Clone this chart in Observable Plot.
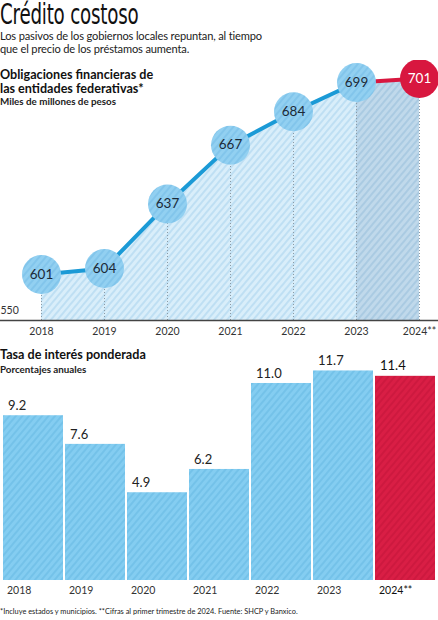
<!DOCTYPE html>
<html>
<head>
<meta charset="utf-8">
<script src="https://cdn.jsdelivr.net/npm/d3@7"></script>
<script src="https://cdn.jsdelivr.net/npm/@observablehq/plot@0.6"></script>
<style>
  body { margin: 0; background: #fff; font-family: Lato, "Open Sans", sans-serif; color: #1e1e1e; }
  #page { position: relative; width: 438px; height: 620px; overflow: hidden; }
  .abs { position: absolute; left: 0; z-index: 2; white-space: nowrap; }
  #title { top: 1px; font-family: "DejaVu Sans Condensed", "DejaVu Sans", sans-serif; font-stretch: condensed; font-size: 29px; line-height: 27px; color: #111;
           transform: scaleX(0.7); transform-origin: 0 0; letter-spacing: -0.3px; }
  #sub { top: 29px; font-size: 11.1px; line-height: 13px; letter-spacing: -0.15px; color: #222; }
  .sec { font-size: 12.6px; line-height: 14px; font-weight: 700; color: #111; }
  .unit { font-size: 9.8px; line-height: 11px; font-weight: 700; color: #222; }
  #foot { top: 607px; font-size: 7.4px; color: #222; }
  .chart { position: absolute; left: 0; z-index: 1; }
</style>
</head>
<body>
<div id="page">
  <div id="c1" class="chart" style="top:60px"></div>
  <div id="c2" class="chart" style="top:340px"></div>
  <div id="title" class="abs">Crédito costoso</div>
  <div id="sub" class="abs">Los pasivos de los gobiernos locales repuntan, al tiempo<br>que el precio de los préstamos aumenta.</div>
  <div class="abs sec" style="top:68px">Obligaciones financieras de<br>las entidades federativas*</div>
  <div class="abs unit" style="top:96px">Miles de millones de pesos</div>
  <div class="abs sec" style="top:348px">Tasa de interés ponderada</div>
  <div class="abs unit" style="top:364px">Porcentajes anuales</div>
  <div id="foot" class="abs">*Incluye estados y municipios. **Cifras al primer trimestre de 2024. Fuente: SHCP y Banxico.</div>
</div>
<script>
// data
const years = [2018, 2019, 2020, 2021, 2022, 2023, 2024];
const yearLabels = ["2018", "2019", "2020", "2021", "2022", "2023", "2024**"];
const obligaciones = [601, 604, 637, 667, 684, 699, 701];
const tasa = [9.2, 7.6, 4.9, 6.2, 11.0, 11.7, 11.4];
const baseLabel = "550";

const blue = "#1b9ad6";
const red = "#d8173f";
const W = 438;

// diagonal hatch fills
const hatch = (id, bg, fg) => `
  <pattern id="${id}" width="5" height="5" patternUnits="userSpaceOnUse" patternTransform="rotate(40)">
    <rect width="5" height="5" fill="${bg}"/><line x1="1" y1="0" x2="1" y2="5" stroke="${fg}" stroke-width="1.1"/>
  </pattern>`;
const defs = hatch("hArea", "#d9eefa", "#a9d3ee")
  + hatch("hAreaDark", "#c0d9eb", "#98bfdb")
  + hatch("hDot", "#92d0f1", "#74bce6")
  + hatch("hBlue", "#84cdf1", "#66b9e4")
  + hatch("hRed", "#d91e45", "#c4143a");

// ---------- line chart ----------
const pts = years.map((y, i) => ({year: y, value: obligaciones[i], label: String(obligaciones[i])}));
const seg1 = pts.slice(0, 6);
const seg2 = pts.slice(5);
const yMin = 577.5;   // axis is broken: bottom labelled 550

const p1 = Plot.plot({
  width: W,
  height: 280,
  marginTop: 0,
  marginBottom: 20,
  marginLeft: 41,
  marginRight: 19,
  style: {background: "transparent", fontFamily: "Lato, 'Open Sans', sans-serif", fontSize: "10.5px", color: "#333"},
  x: {domain: [2018, 2024]},
  y: {domain: [yMin, 710.2], axis: null},
  marks: [
    Plot.areaY(seg1, {x: "year", y1: yMin, y2: "value", fill: "url(#hArea)"}),
    Plot.areaY(seg2, {x: "year", y1: yMin, y2: "value", fill: "url(#hAreaDark)"}),
    Plot.ruleX(pts, {x: "year", y1: yMin, y2: "value", stroke: "#8c9ba6", strokeDasharray: "1,2", strokeWidth: 1}),
    Plot.lineY(seg1, {x: "year", y: "value", stroke: blue, strokeWidth: 4}),
    Plot.lineY(seg2, {x: "year", y: "value", stroke: red, strokeWidth: 4}),
    Plot.ruleY([yMin], {stroke: "#444", strokeWidth: 1.5, insetLeft: -41, insetRight: -19}),
    Plot.axisX({ticks: years, tickFormat: (d, i) => yearLabels[i], tickSize: 0, tickPadding: 7, fontSize: 10.5, label: null}),
    Plot.dot(pts, {x: "year", y: "value", r: 19.5, fill: d => d.year === 2024 ? red : "url(#hDot)", stroke: null}),
    Plot.text(pts, {x: "year", y: "value", text: "label", fontSize: 13.5,
      fill: d => d.year === 2024 ? "#fff" : "#1c2a38",
      fontWeight: d => d.year === 2024 ? 700 : 400}),
    Plot.text([baseLabel], {frameAnchor: "bottom-left", text: d => d, dx: -41, dy: -7, textAnchor: "start", fontSize: 10.5, fill: "#333"})
  ]
});
d3.select(p1).insert("defs", ":first-child").html(defs);
document.getElementById("c1").append(p1);

// ---------- bar chart ----------
const bars = years.map((y, i) => ({year: yearLabels[i], value: tasa[i], label: tasa[i].toFixed(1)}));
const padIn = 0.03;
const bw = W / (years.length - padIn) * (1 - padIn);
const dxL = -bw / 2 + 5;

const p2 = Plot.plot({
  width: W,
  height: 265,
  marginTop: 0,
  marginBottom: 25,
  marginLeft: 0,
  marginRight: 0,
  style: {background: "transparent", fontFamily: "Lato, 'Open Sans', sans-serif"},
  x: {domain: yearLabels, paddingInner: padIn, paddingOuter: 0, axis: null},
  y: {domain: [0, 13.4], axis: null},
  marks: [
    Plot.barY(bars, {x: "year", y: "value", fill: d => d.year === "2024**" ? "url(#hRed)" : "url(#hBlue)"}),
    Plot.text(bars, {x: "year", y: "value", text: "label", textAnchor: "start", dx: dxL, dy: -10, fontSize: 13,
      fill: d => d.year === "2024**" ? "#111" : "#222",
      fontWeight: d => d.year === "2024**" ? 700 : 400}),
    Plot.text(bars, {x: "year", frameAnchor: "bottom", text: "year", textAnchor: "start", dx: dxL - 1, dy: 13, fontSize: 10.5,
      fill: d => d.year === "2024**" ? "#111" : "#333",
      fontWeight: d => d.year === "2024**" ? 700 : 400})
  ]
});
d3.select(p2).insert("defs", ":first-child").html(defs);
document.getElementById("c2").append(p2);
</script>
</body>
</html>
